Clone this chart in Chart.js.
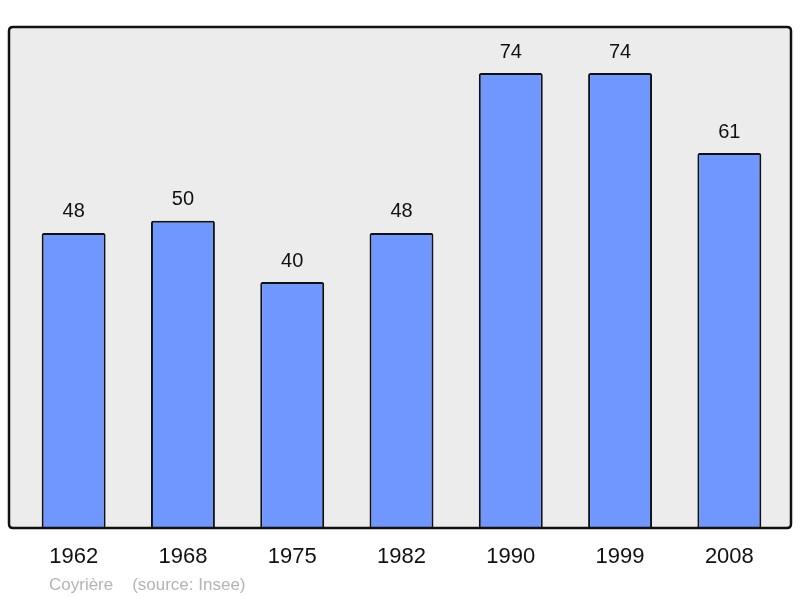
<!DOCTYPE html>
<html>
<head>
<meta charset="utf-8">
<script src="https://cdn.jsdelivr.net/npm/chart.js@4"></script>
<style>
html,body{margin:0;padding:0;background:#fff;}
#c{display:block;}
</style>
</head>
<body>
<canvas id="c" width="800" height="598"></canvas>
<script>
const years = ['1962','1968','1975','1982','1990','1999','2008'];
const population = [48, 50, 40, 48, 74, 74, 61];
const footerText = 'Coyrière    (source: Insee)';

function framePath(ctx) {
  const x = 9, y = 27, w = 782, h = 501, r = 4;
  ctx.beginPath();
  ctx.moveTo(x + r, y);
  ctx.lineTo(x + w - r, y);
  ctx.quadraticCurveTo(x + w, y, x + w, y + r);
  ctx.lineTo(x + w, y + h - r);
  ctx.quadraticCurveTo(x + w, y + h, x + w - r, y + h);
  ctx.lineTo(x + r, y + h);
  ctx.quadraticCurveTo(x, y + h, x, y + h - r);
  ctx.lineTo(x, y + r);
  ctx.quadraticCurveTo(x, y, x + r, y);
  ctx.closePath();
}

const framePlugin = {
  id: 'frame',
  beforeDraw(chart) {
    const ctx = chart.ctx;
    ctx.save();
    framePath(ctx);
    ctx.fillStyle = '#ececec';
    ctx.fill();
    ctx.restore();
  },
  afterDatasetsDraw(chart) {
    const ctx = chart.ctx;
    ctx.save();
    framePath(ctx);
    ctx.strokeStyle = '#111';
    ctx.lineWidth = 2.5;
    ctx.stroke();

    const xs = chart.scales.x, ys = chart.scales.y;
    ctx.fillStyle = '#111';
    ctx.textAlign = 'center';
    ctx.textBaseline = 'middle';
    ctx.font = '20px "Liberation Sans", Arial, sans-serif';
    population.forEach((v, i) => {
      ctx.fillText(String(v), xs.getPixelForValue(i), ys.getPixelForValue(v) - 21);
    });
    ctx.font = '22px "Liberation Sans", Arial, sans-serif';
    years.forEach((yr, i) => {
      ctx.fillText(yr, xs.getPixelForValue(i), 557);
    });
    ctx.fillStyle = '#b4b4b4';
    ctx.textAlign = 'left';
    ctx.font = '17px "Liberation Sans", Arial, sans-serif';
    ctx.fillText(footerText, 49, 585);
    ctx.restore();
  }
};

new Chart(document.getElementById('c'), {
  type: 'bar',
  data: {
    labels: years,
    datasets: [{
      data: population,
      backgroundColor: '#6f97ff',
      borderColor: '#111',
      borderWidth: 2,
      borderRadius: 2,
      borderSkipped: 'bottom',
      barPercentage: 0.585,
      categoryPercentage: 1.0
    }]
  },
  options: {
    responsive: false,
    animation: false,
    devicePixelRatio: 1,
    layout: { padding: { left: 19, right: 16, top: 27, bottom: 70 } },
    plugins: { legend: { display: false }, tooltip: { enabled: false } },
    scales: {
      x: { display: false },
      y: { display: false, min: 0, max: 81.5 }
    }
  },
  plugins: [framePlugin]
});
</script>
</body>
</html>
